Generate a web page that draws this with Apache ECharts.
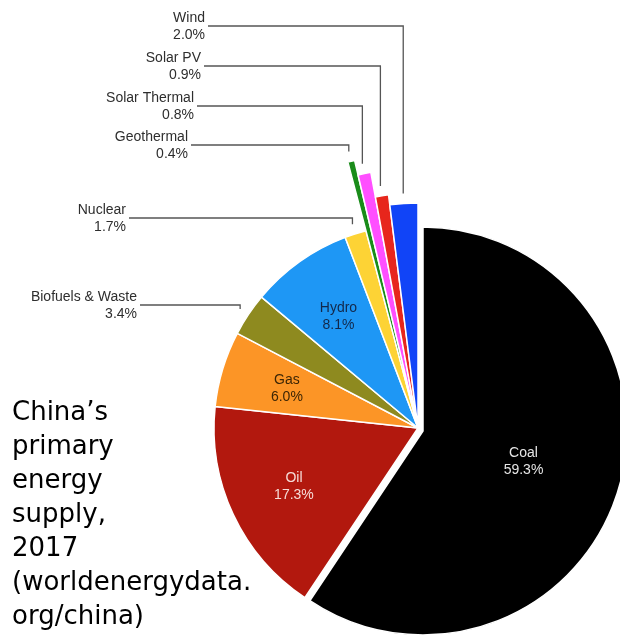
<!DOCTYPE html>
<html><head><meta charset="utf-8">
<script src="https://cdn.jsdelivr.net/npm/echarts/dist/echarts.min.js"></script>
<style>html,body{margin:0;padding:0;background:#fff;}#c{width:620px;height:638px;}</style>
</head><body><div id="c"></div>
<script>
// ---- data ----
const categories = ['Coal','Oil','Gas','Biofuels & Waste','Hydro','Nuclear','Geothermal','Solar Thermal','Solar PV','Wind'];
const shares = [59.3, 17.3, 6.0, 3.4, 8.1, 1.7, 0.4, 0.8, 0.9, 2.0];
const titleLines = ['China’s','primary','energy','supply,','2017','(worldenergydata.','org/china)'];

// ---- styles ----
const sliceColors = {
  'Coal':'#000000','Oil':'#b2180e','Gas':'#fc9526','Biofuels & Waste':'#8e8a1f','Hydro':'#1e97f5',
  'Nuclear':'#fdd335','Geothermal':'#1a8c1a','Solar Thermal':'#ff4fff','Solar PV':'#e7261c','Wind':'#1144f7'
};
const innerLabelColors = {'Coal':'#e6e6e6','Oil':'#f6dcd8','Gas':'#3d2605','Hydro':'#13284a'};
const outsideLabelPos = {
  'Wind':[205,27],'Solar PV':[201,67],'Solar Thermal':[194,107],'Geothermal':[188,146],
  'Nuclear':[126,219],'Biofuels & Waste':[137,306]
};
const FONT = '"Liberation Sans", Arial, Helvetica, sans-serif';
const CX = 418, CY = 428, R = 204;

function fmt(p){ return p.name + '\n' + Number(p.value).toFixed(1) + '%'; }

function pieSeries(fillSet, labelSet, labelMode, radius, center) {
  const s = {
    type:'pie', startAngle:90, clockwise:true, center:center, radius:radius,
    avoidLabelOverlap:false, silent:true, animation:false,
    emphasis:{disabled:true},
    itemStyle:{borderColor:'#fff', borderWidth:1.5},
    label:{show:false}, labelLine:{show:false},
    data: categories.map(function(c,i){
      const d = {name:c, value:shares[i]};
      if (fillSet.indexOf(c) >= 0) d.itemStyle = {color:sliceColors[c]};
      else d.itemStyle = {color:'rgba(0,0,0,0)', borderWidth:0};
      if (labelSet.indexOf(c) >= 0) {
        if (labelMode === 'inside') {
          d.label = {show:true, position:'inside', formatter:fmt, color:innerLabelColors[c],
            fontSize:14, lineHeight:17, fontFamily:FONT};
        } else {
          d.label = {show:true, position:'outside', formatter:fmt, color:'#2e2e2e',
            fontSize:14, lineHeight:17, fontFamily:FONT, align:'right'};
          d.labelLine = {show:true, length:10, length2:5, smooth:false,
            lineStyle:{color:'#555', width:1.3}};
        }
      } else {
        d.label = {show:false}; d.labelLine = {show:false};
      }
      return d;
    })
  };
  if (labelMode === 'outside') {
    s.labelLayout = function(p){
      const nm = categories[p.dataIndex];
      const pos = outsideLabelPos[nm];
      if (!pos || !p.labelLinePoints) return {};
      const tip = p.labelLinePoints[1];
      const ly = pos[1] - 1;
      return {x:pos[0], y:pos[1], align:'right', verticalAlign:'middle',
        labelLinePoints:[[pos[0]+3, ly],[tip[0], ly],[tip[0], tip[1]]]};
    };
  }
  return s;
}

const series = [
  pieSeries(['Oil','Gas','Biofuels & Waste','Hydro','Nuclear'], ['Biofuels & Waste','Nuclear'], 'outside', [0,R], [CX,CY]),
  pieSeries(['Coal'], ['Coal'], 'inside', [0,R], [CX+5,CY+3]),
  pieSeries([], ['Oil','Gas','Hydro'], 'inside', [64,R], [CX,CY]),
  pieSeries(['Geothermal'], ['Geothermal'], 'outside', [0,275], [CX,CY]),
  pieSeries(['Solar Thermal'], ['Solar Thermal'], 'outside', [0,260], [CX,CY]),
  pieSeries(['Solar PV'], ['Solar PV'], 'outside', [0,235], [CX,CY]),
  pieSeries(['Wind'], ['Wind'], 'outside', [0,225], [CX,CY])
];

const chart = echarts.init(document.getElementById('c'), null, {renderer:'canvas'});
chart.setOption({
  animation:false,
  backgroundColor:'#fff',
  title:{text:titleLines.join('\n'), left:12, top:396, padding:0,
    textStyle:{fontFamily:'"DejaVu Sans", Verdana, sans-serif', fontSize:26, fontWeight:'normal', color:'#000', lineHeight:34}},
  series:series
});
</script></body></html>
